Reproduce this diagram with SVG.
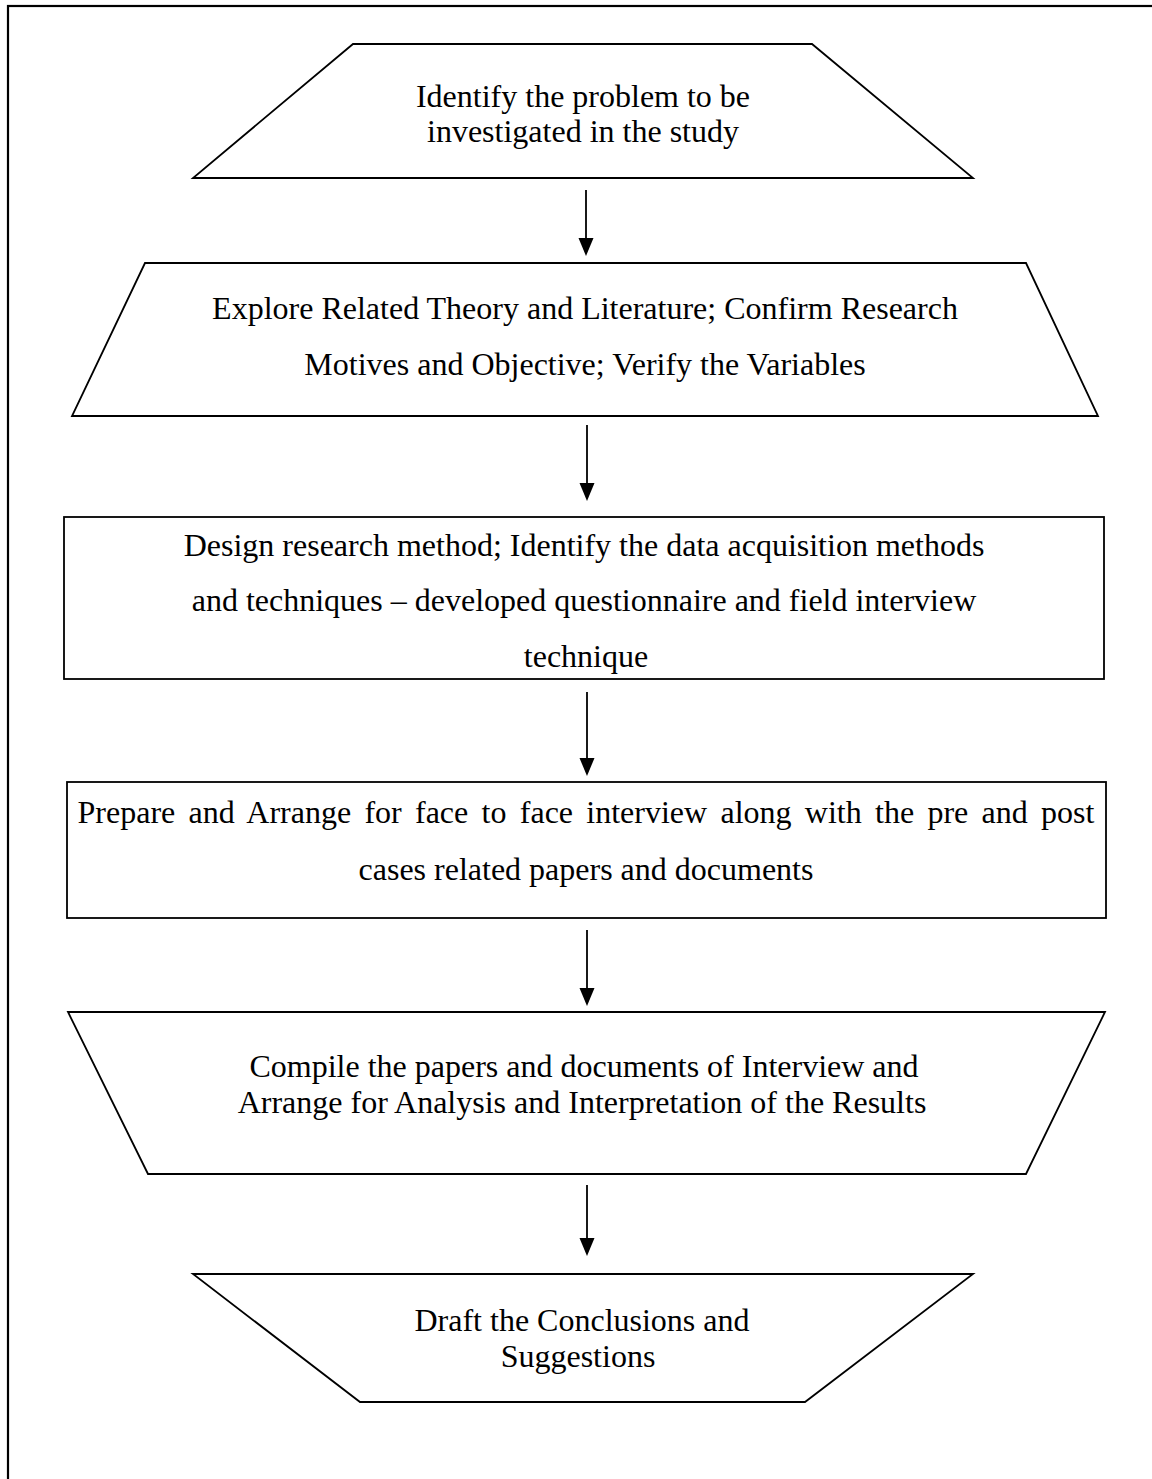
<svg xmlns="http://www.w3.org/2000/svg" width="1152" height="1479" viewBox="0 0 1152 1479">
<defs>
<style>
.shape{fill:#fff;stroke:#000;stroke-width:1.8}
.t{font-family:"Liberation Serif","Times New Roman",serif;font-size:32px;fill:#000;text-anchor:middle}
.c{stroke:#000;stroke-width:1.8;fill:none}
.h{fill:#000}
</style>
</defs>
<rect width="1152" height="1479" fill="#fff"/>
<rect x="8" y="6" width="1160" height="1500" fill="none" stroke="#000" stroke-width="2.2"/>
<g id="connectors">
<line class="c" x1="586" y1="190" x2="586" y2="240"/><path class="h" d="M578.5,238 L593.5,238 L586,256 Z"/>
<line class="c" x1="587" y1="425" x2="587" y2="485"/><path class="h" d="M579.5,483 L594.5,483 L587,501 Z"/>
<line class="c" x1="587" y1="692" x2="587" y2="760"/><path class="h" d="M579.5,758 L594.5,758 L587,776 Z"/>
<line class="c" x1="587" y1="930" x2="587" y2="990"/><path class="h" d="M579.5,988 L594.5,988 L587,1006 Z"/>
<line class="c" x1="587" y1="1185" x2="587" y2="1240"/><path class="h" d="M579.5,1238 L594.5,1238 L587,1256 Z"/>
</g>
<g id="n1">
<polygon class="shape" points="353,44 812,44 973,178 193,178"/>
<text class="t" x="583" y="107">Identify the problem to be</text>
<text class="t" x="583" y="142">investigated in the study</text>
</g>
<g id="n2">
<polygon class="shape" points="145,263 1026,263 1098,416 72,416"/>
<text class="t" x="585" y="319">Explore Related Theory and Literature; Confirm Research</text>
<text class="t" x="585" y="375">Motives and Objective; Verify the Variables</text>
</g>
<g id="n3">
<rect class="shape" x="64" y="517" width="1040" height="162"/>
<text class="t" x="584" y="556">Design research method; Identify the data acquisition methods</text>
<text class="t" x="584" y="611">and techniques – developed questionnaire and field interview</text>
<text class="t" x="586" y="667">technique</text>
</g>
<g id="n4">
<rect class="shape" x="67" y="782" width="1039" height="136"/>
<text class="t" x="586" y="823" word-spacing="5.3">Prepare and Arrange for face to face interview along with the pre and post</text>
<text class="t" x="586" y="880">cases related papers and documents</text>
</g>
<g id="n5">
<polygon class="shape" points="68,1012 1105,1012 1026,1174 148,1174"/>
<text class="t" x="584" y="1077">Compile the papers and documents of Interview and</text>
<text class="t" x="582" y="1113">Arrange for Analysis and Interpretation of the Results</text>
</g>
<g id="n6">
<polygon class="shape" points="193,1274 973,1274 805,1402 360,1402"/>
<text class="t" x="582" y="1331">Draft the Conclusions and</text>
<text class="t" x="578" y="1367">Suggestions</text>
</g>
</svg>
